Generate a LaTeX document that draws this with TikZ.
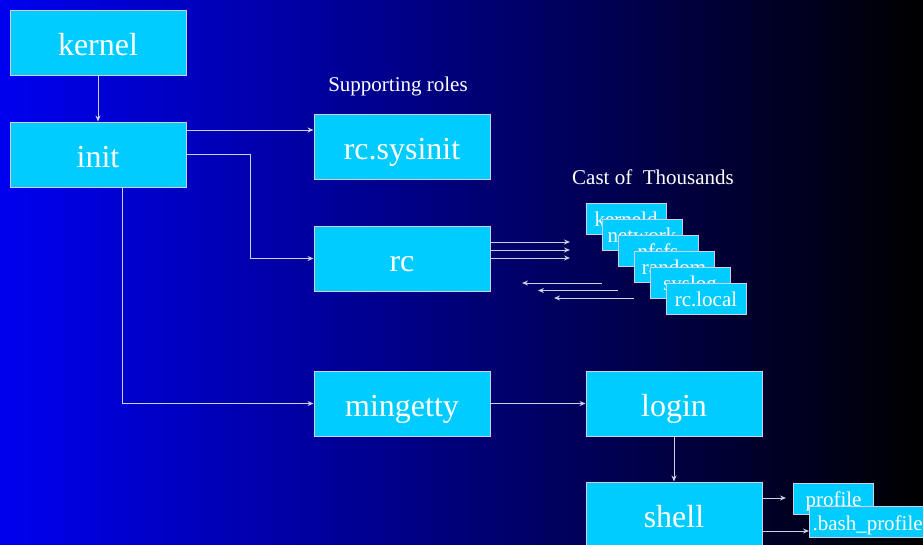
\documentclass[tikz,border=0pt]{standalone}
\usepackage{fontspec}
\setmainfont{Liberation Serif}
\usetikzlibrary{positioning,arrows.meta}

\definecolor{boxcyan}{RGB}{0,204,255}
\definecolor{edgegray}{RGB}{205,208,232}
\definecolor{bgblue}{RGB}{0,0,240}

\tikzstyle{stage} = [rectangle, draw=edgegray, line width=1pt, fill=boxcyan, text=white, minimum width=176pt, minimum height=65pt, inner sep=0pt, text height=25pt, text depth=0pt, font=\fontsize{32}{36}\selectfont]
\tikzstyle{script} = [rectangle, draw=edgegray, line width=1pt, fill=boxcyan, text=white, minimum width=80pt, minimum height=31pt, inner sep=3pt, text height=16pt, text depth=0pt, font=\fontsize{21}{24}\selectfont]
\tikzstyle{note} = [text=white, font=\fontsize{21}{24}\selectfont]
\tikzstyle{arrow} = [draw=edgegray, line width=1pt, ->, >={Stealth[length=6pt,width=5pt]}]

\begin{document}
\begin{tikzpicture}
    [x=1pt, y=-1pt, node distance = 46pt]
  \shade[left color=bgblue, right color=black] (0,0) rectangle (923,544);
  \useasboundingbox (0,0) rectangle (923,544);

  \node[stage] (kernel) at (98,42.5) {kernel};
  \node[stage, below=of kernel] (init) {init};
  \node[stage] (sysinit) at (402,146.5) {rc.sysinit};
  \node[stage, below=of sysinit] (rc) {rc};
  \node[stage, below=79pt of rc] (mingetty) {mingetty};
  \node[stage, right=95pt of mingetty] (login) {login};
  \node[stage, below=45pt of login] (shell) {shell};

  \node[note] (roles) at (398,86) {Supporting roles};
  \node[note] (cast) at (653,177) {Cast of~ Thousands};

  % the rc.d scripts, stacked
  \foreach \name [count=\i from 0] in {kerneld,network,nfsfs,random,syslog,rc.local}
    \node[script] (s\i) at (626+16*\i, 218.5+16*\i) {\name};

  \node[script] (profile) at (833.5,498.5) {profile};
  \node[script, anchor=west] (bashprofile) at (809,522) {.bash\_profile};

  \draw [arrow] (kernel) -- (init);
  \draw [arrow] ([yshift=24.5pt]init.east) -- ([yshift=24.5pt]init.east -| sysinit.west);
  \draw [arrow] (init.east) -- ++(64,0) |- (rc.west);
  \draw [arrow] ([xshift=24pt]init.south) |- (mingetty.west);
  \draw [arrow] (mingetty) -- (login);
  \draw [arrow] (login) -- (shell);

  % rc calls out to the scripts and they come back
  \foreach \k in {0,1,2} {
    \coordinate (call\k) at (570, 242+8*\k);
    \draw [arrow] (rc.east |- call\k) -- (call\k);
    \coordinate (back\k) at (602+16*\k, 283+7.5*\k);
    \coordinate (done\k) at (522+16*\k, 283+7.5*\k);
    \draw [arrow] (back\k) -- (done\k);
  }

  \coordinate (toprofile) at (786,498);
  \draw [arrow] (shell.east |- toprofile) -- (toprofile);
  \draw [arrow] ([yshift=-16.5pt]shell.east) -- ([yshift=-16.5pt]shell.east -| bashprofile.west);
\end{tikzpicture}
\end{document}
